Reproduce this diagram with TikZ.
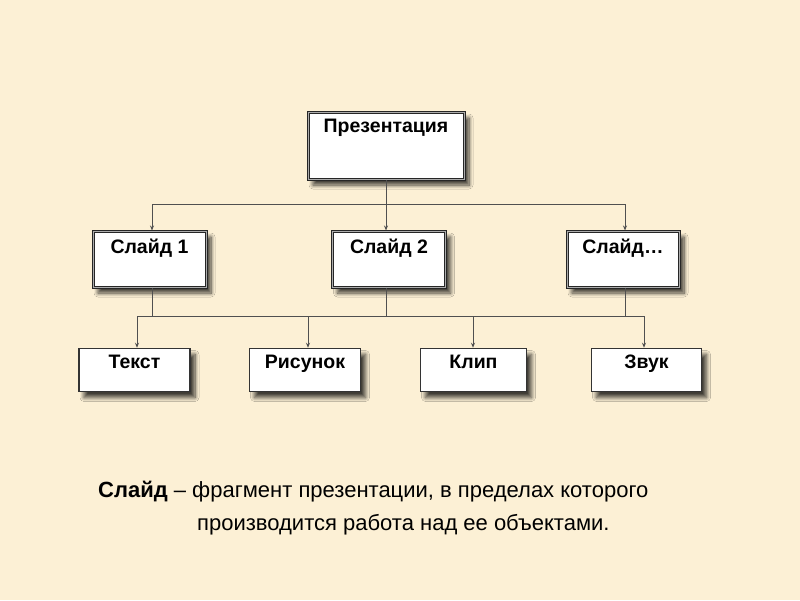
\documentclass[tikz,border=0pt]{standalone}
\usepackage{fontspec}
\setmainfont{Liberation Sans}
\usetikzlibrary{shadows.blur,arrows.meta}
\definecolor{bg}{HTML}{FCF0D5}
\definecolor{ln}{HTML}{505050}
\tikzset{
  topbox/.style={rectangle, fill=white, draw=black!85, line width=1pt, double=gray!65, double distance=1pt,
    blur shadow={shadow xshift=5pt, shadow yshift=-6pt, shadow blur steps=8, shadow blur radius=4pt, shadow opacity=75}},
  leafbox/.style={rectangle, fill=white, draw=black!80, line width=1.5pt,
    blur shadow={shadow xshift=5pt, shadow yshift=-6pt, shadow blur steps=8, shadow blur radius=4pt, shadow opacity=75}},
  lbl/.style={font=\bfseries\fontsize{19.5}{22}\selectfont, anchor=north, inner sep=0pt},
  conn/.style={draw=ln, line width=0.8pt},
  arr/.style={conn, -{Stealth[length=5pt,width=4pt]}},
}
\begin{document}
\begin{tikzpicture}[x=1pt,y=-1pt]
\fill[bg] (0,0) rectangle (800,600);
\useasboundingbox (0,0) rectangle (800,600);
% boxes
\node[topbox, minimum width=156pt, minimum height=67pt] (p) at (386,145.5) {};
\node[topbox, minimum width=113pt, minimum height=56pt] (s1) at (149.5,259) {};
\node[topbox, minimum width=113pt, minimum height=56pt] (s2) at (389,259) {};
\node[topbox, minimum width=112pt, minimum height=56pt] (s3) at (623,259) {};
\node[leafbox, minimum width=111pt, minimum height=43pt] (t) at (134.5,370) {};
\node[leafbox, minimum width=111pt, minimum height=43pt] (r) at (305,370) {};
\node[leafbox, minimum width=106pt, minimum height=43pt] (k) at (473.5,370) {};
\node[leafbox, minimum width=110pt, minimum height=43pt] (z) at (646.5,370) {};
% labels
\node[lbl] (pl) at ([yshift=-7pt]p.north) {Презентация};
\node[lbl] (s1l) at ([yshift=-8pt]s1.north) {Слайд 1};
\node[lbl] (s2l) at ([yshift=-8pt]s2.north) {Слайд 2};
\node[lbl] (s3l) at ([yshift=-8pt]s3.north) {Слайд…};
\node[lbl] (tl) at ([yshift=-7pt]t.north) {Текст};
\node[lbl] (rl) at ([yshift=-7pt]r.north) {Рисунок};
\node[lbl] (kl) at ([yshift=-7pt]k.north) {Клип};
\node[lbl] (zl) at ([yshift=-7pt]z.north) {Звук};
% level 1 connectors
\coordinate (j1) at (386,204);
\draw[conn] (p.south -| j1) -- (j1);
\draw[conn] (152,204) -- (625,204);
\draw[arr] (152,204) -- (s1.north -| 152,0);
\draw[arr] (j1) -- (s2.north -| j1);
\draw[arr] (625,204) -- (s3.north -| 625,0);
% level 2 connectors
\draw[conn] (s1.south -| 152,0) -- (152,316);
\draw[conn] (s2.south -| 386,0) -- (386,316);
\draw[conn] (s3.south -| 625,0) -- (625,316);
\draw[conn] (137,316) -- (644,316);
\draw[arr] (137,316) -- (t.north -| 137,0);
\draw[arr] (308,316) -- (r.north -| 308,0);
\draw[arr] (473,316) -- (k.north -| 473,0);
\draw[arr] (644,316) -- (z.north -| 644,0);
% caption
\node[anchor=base west, inner sep=0pt, font=\fontsize{22}{26}\selectfont] (c1) at (98,497) {\textbf{Слайд} – фрагмент презентации, в пределах которого};
\node[anchor=base west, inner sep=0pt, font=\fontsize{22}{26}\selectfont] (c2) at (197,530) {производится работа над ее объектами.};
\end{tikzpicture}
\end{document}
